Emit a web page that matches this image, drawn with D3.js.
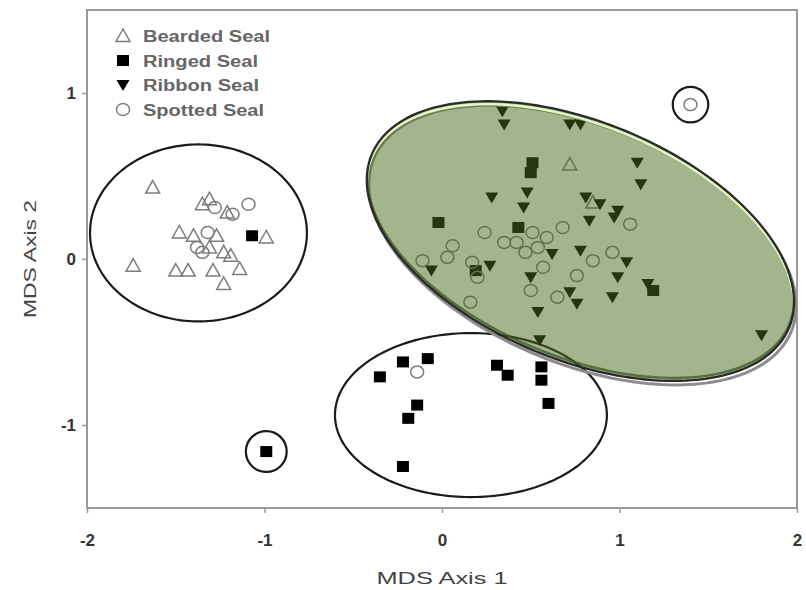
<!DOCTYPE html>
<html><head><meta charset="utf-8">
<script src="https://cdn.jsdelivr.net/npm/d3@7"></script>
<style>body{margin:0;background:#fff}</style>
</head><body>
<svg id="c" width="806" height="590"></svg>
<script>
// ---- data (MDS coordinates) ----
const beardedSeal = [[-1.63,0.43],[-1.74,-0.04],[-1.50,-0.07],[-1.43,-0.07],[-1.29,-0.07],[-1.14,-0.06],
  [-1.23,-0.15],[-0.99,0.13],[-1.48,0.16],[-1.40,0.14],[-1.35,0.33],[-1.31,0.36],[-1.21,0.28],
  [-1.23,0.04],[-1.31,0.07],[-1.19,0.02],[-1.27,0.14],[0.72,0.57],[0.85,0.34]];
const ringedSeal = [[-1.07,0.14],[-0.99,-1.16],[-0.35,-0.71],[-0.22,-0.62],[-0.08,-0.60],[0.31,-0.64],
  [0.37,-0.70],[0.56,-0.65],[0.56,-0.73],[0.60,-0.87],[-0.14,-0.88],[-0.19,-0.96],[-0.22,-1.25],
  [0.51,0.58],[0.50,0.52],[-0.02,0.22],[0.43,0.19],[0.19,-0.07],[1.19,-0.19]];
const ribbonSeal = [[0.34,0.89],[0.35,0.81],[0.72,0.81],[0.78,0.81],[1.10,0.58],[1.12,0.45],[0.28,0.37],
  [0.48,0.40],[0.46,0.31],[0.81,0.37],[0.89,0.33],[0.83,0.23],[0.99,0.29],[0.97,0.25],[0.62,0.03],
  [0.78,0.05],[-0.06,-0.07],[0.27,-0.04],[0.50,-0.11],[0.72,-0.20],[0.76,-0.27],[0.54,-0.32],
  [0.96,-0.23],[1.04,-0.02],[0.99,-0.11],[1.16,-0.15],[1.80,-0.46],[0.55,-0.49]];
const spottedSeal = [[1.40,0.93],[-1.09,0.33],[-1.28,0.31],[-1.18,0.27],[-1.32,0.16],[-1.38,0.07],
  [-1.35,0.04],[-0.14,-0.68],[0.24,0.16],[0.51,0.16],[0.59,0.13],[0.68,0.19],[1.06,0.21],[0.06,0.08],
  [0.03,0.01],[-0.11,-0.01],[0.42,0.10],[0.47,0.04],[0.54,0.07],[0.17,-0.02],[0.20,-0.11],[0.57,-0.05],
  [0.50,-0.19],[0.65,-0.23],[0.76,-0.10],[0.85,-0.01],[0.96,0.04],[0.16,-0.26],[0.35,0.10]];
const seriesNames = ["Bearded Seal","Ringed Seal","Ribbon Seal","Spotted Seal"];
const xTicks = [-2,-1,0,1,2];
const yTicks = [-1,0,1];
const xDomain = [-2,2];
const yDomain = [-1.5,1.5];
// group ellipses: centre + two conjugate semi-axis vectors (data units)
const groupEllipses = [
  {cx:-1.372, cy:0.157, ux:0.611, uy:0, vx:0, vy:0.533},
  {cx:0.163, cy:-0.94, ux:0.766, uy:0, vx:0, vy:0.494}
];
const greenEllipse = {cx:0.780, cy:0.108, ux:1.176, uy:-0.521, vx:-0.257, vy:-0.662};
const outlierRings = [{cx:1.40, cy:0.93, r:0.10},{cx:-0.99, cy:-1.16, r:0.115}];

// ---- drawing ----
const svg = d3.select("#c");
const FONT = "'Liberation Sans', Arial, sans-serif";
const x = d3.scaleLinear().domain(xDomain).range([87,797]);
const y = d3.scaleLinear().domain(yDomain).range([508,10]);

// axes
const gx = svg.append("g").attr("transform","translate(0,508)")
  .call(d3.axisBottom(x).tickValues(xTicks).tickSize(5).tickPadding(21).tickFormat(d3.format("d")));
const gy = svg.append("g").attr("transform","translate(87,0)")
  .call(d3.axisLeft(y).tickValues(yTicks).tickSize(5).tickPadding(6).tickFormat(d3.format("d")));
[gx,gy].forEach(g=>{
  g.select(".domain").remove();
  g.selectAll(".tick line").attr("stroke","#999").attr("stroke-width",1.5);
  g.selectAll(".tick text").attr("font-family",FONT).attr("font-size",17)
    .attr("font-weight","bold").attr("fill","#333").text(d=>d<0?"-"+Math.abs(d):d);
});
// frame
svg.append("rect").attr("x",x(xDomain[0])).attr("y",y(yDomain[1]))
  .attr("width",x(xDomain[1])-x(xDomain[0])).attr("height",y(yDomain[0])-y(yDomain[1]))
  .attr("fill","none").attr("stroke","#9a9a9a").attr("stroke-width",2);

// axis titles
svg.append("text").attr("x",(x(xDomain[0])+x(xDomain[1]))/2).attr("y",584)
  .attr("text-anchor","middle").attr("font-family",FONT).attr("font-size",17)
  .attr("fill","#444").attr("textLength",131).attr("lengthAdjust","spacingAndGlyphs").text("MDS Axis 1");
svg.append("text").attr("transform",`translate(36,${(y(yDomain[0])+y(yDomain[1]))/2}) rotate(-90)`)
  .attr("text-anchor","middle").attr("font-family",FONT).attr("font-size",17)
  .attr("fill","#444").attr("textLength",118).attr("lengthAdjust","spacingAndGlyphs").text("MDS Axis 2");

function ellPts(e){
  const pts=[];
  for(let i=0;i<180;i++){const t=i/180*2*Math.PI;
    pts.push([x(e.cx+e.ux*Math.cos(t)+e.vx*Math.sin(t)), y(e.cy+e.uy*Math.cos(t)+e.vy*Math.sin(t))]);}
  return pts;
}
const closed = d3.line().curve(d3.curveLinearClosed);

// group ellipses
svg.selectAll(".gell").data(groupEllipses).join("path").attr("class","gell")
  .attr("d",d=>closed(ellPts(d))).attr("fill","none").attr("stroke","#1a1a1a").attr("stroke-width",2.2);
svg.selectAll(".ring").data(outlierRings).join("circle").attr("class","ring")
  .attr("cx",d=>x(d.cx)).attr("cy",d=>y(d.cy)).attr("r",d=>x(d.cx+d.r)-x(d.cx))
  .attr("fill","none").attr("stroke","#1a1a1a").attr("stroke-width",2.2);

// marker shapes
const shapes = {
  "Bearded Seal": {d:"M0,-7L7,5.5L-7,5.5Z", fill:"none", stroke:"#7d7d7d", sw:1.5},
  "Ringed Seal": {d:"M-6,-5.5H6V5.5H-6Z", fill:"#000", stroke:"none", sw:0},
  "Ribbon Seal": {d:"M-6.5,-5H6.5L0,6Z", fill:"#000", stroke:"none", sw:0},
  "Spotted Seal": {d:"M6.5,0A6.5,6 0 1 1 -6.5,0A6.5,6 0 1 1 6.5,0Z", fill:"none", stroke:"#7d7d7d", sw:1.5}
};
const seriesData = [beardedSeal, ringedSeal, ribbonSeal, spottedSeal];
seriesNames.forEach((name,i)=>{
  const s = shapes[name];
  svg.append("g").selectAll("path").data(seriesData[i]).join("path")
    .attr("d",s.d).attr("transform",d=>`translate(${x(d[0])},${y(d[1])})`)
    .attr("fill",s.fill).attr("stroke",s.stroke).attr("stroke-width",s.sw);
});

// green ellipse (semi-transparent overlay with bevel)
const gPath = closed(ellPts(greenEllipse));
const defs = svg.append("defs");
defs.append("clipPath").attr("id","gclip").append("path").attr("d",gPath);
svg.append("path").attr("d",gPath).attr("transform","translate(2,4)")
  .attr("fill","none").attr("stroke","#8c8c8c").attr("stroke-width",3);
svg.append("path").attr("d",gPath).attr("fill","#466c19").attr("fill-opacity",0.5);
const cg = svg.append("g").attr("clip-path","url(#gclip)");
cg.append("path").attr("d",gPath).attr("transform","translate(0,3)")
  .attr("fill","none").attr("stroke","#e4f6c6").attr("stroke-width",2.5);
cg.append("path").attr("d",gPath).attr("transform","translate(0,-3)")
  .attr("fill","none").attr("stroke","#34521a").attr("stroke-width",2.5).attr("stroke-opacity",0.7);
svg.append("path").attr("d",gPath).attr("fill","none").attr("stroke","#2a2a2a").attr("stroke-width",2.3);

// legend
const lg = svg.append("g");
const legLen = [127,115,116,121];
seriesNames.forEach((name,i)=>{
  const s = shapes[name];
  const ry = 36 + i*24.5;
  lg.append("path").attr("d",s.d).attr("transform",`translate(123,${ry})`)
    .attr("fill",s.fill).attr("stroke",s.stroke).attr("stroke-width",s.sw);
  lg.append("text").attr("x",143).attr("y",ry+6).attr("font-family",FONT).attr("font-size",16)
    .attr("font-weight","bold").attr("fill","#666").attr("textLength",legLen[i])
    .attr("lengthAdjust","spacingAndGlyphs").text(name);
});
</script>
</body></html>
